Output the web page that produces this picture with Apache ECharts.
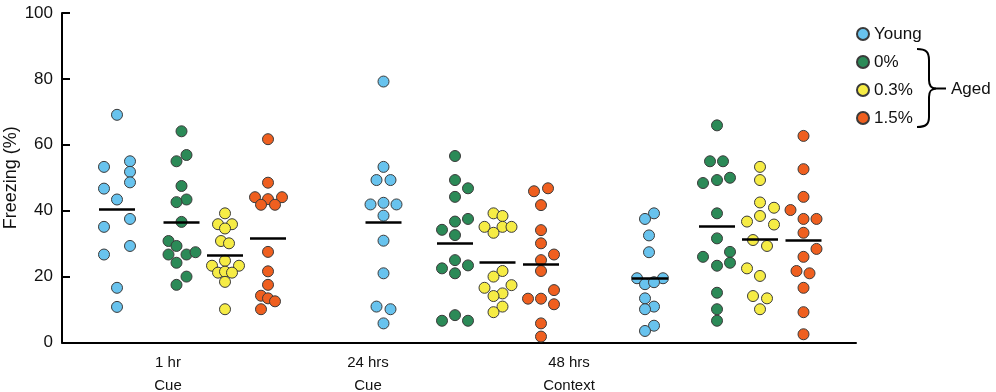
<!DOCTYPE html>
<html>
<head>
<meta charset="utf-8">
<script src="https://cdn.jsdelivr.net/npm/echarts@6/dist/echarts.min.js"></script>
<style>
html, body { margin: 0; padding: 0; background: #fff; }
#chart { width: 996px; height: 392px; }
</style>
</head>
<body>
<div id="chart"></div>
<script>
// x labels and where they sit on the x scale
var categories = ['1 hr\nCue', '24 hrs\nCue', '48 hrs\nContext'];
var labelX = [106, 306, 507];
var seriesNames = ['Young', '0%', '0.3%', '1.5%'];
var yTicks = [0, 20, 40, 60, 80, 100];

// column centre of every group, per series
var youngX = [55, 321.5, 588];
var aged0X = [119.5, 393, 655];
var aged03X = [163, 435.5, 698];
var aged15X = [206, 479, 741.5];

// freezing (%) per animal, one array per group
var young = [
    [69.1, 53.3, 55.0, 51.8, 48.6, 46.7, 43.4, 37.5, 35.1, 29.3, 26.7, 16.6, 10.8],
    [79.2, 53.3, 49.3, 49.3, 41.9, 42.4, 41.9, 38.5, 30.9, 21.0, 10.9, 10.1, 5.8],
    [39.2, 37.5, 32.5, 27.4, 19.5, 19.5, 17.7, 18.3, 13.4, 10.9, 10.1, 5.1, 3.5]
];
var aged0 = [
    [64.1, 56.9, 55.0, 47.5, 43.4, 42.6, 36.6, 30.8, 29.3, 26.7, 26.7, 27.4, 24.2, 20.0, 17.5],
    [56.6, 49.3, 46.8, 44.2, 37.5, 36.7, 34.2, 32.6, 25.0, 22.5, 23.4, 21.0, 6.6, 8.3, 6.6],
    [65.9, 55.0, 55.0, 48.4, 49.3, 50.0, 39.2, 31.6, 26.0, 27.5, 23.3, 24.2, 15.1, 10.1, 6.6]
];
var aged03 = [
    [39.2, 35.9, 35.9, 34.6, 30.8, 30.1, 24.8, 23.3, 23.3, 21.2, 21.5, 21.2, 18.4, 10.1],
    [39.2, 38.4, 35.1, 35.1, 35.1, 33.3, 21.7, 20.0, 17.4, 16.6, 14.9, 14.1, 10.9, 9.2],
    [53.3, 49.3, 42.5, 40.9, 36.7, 38.4, 35.8, 31.1, 29.3, 22.5, 20.2, 14.1, 13.4, 10.1]
];
var aged15 = [
    [61.7, 48.5, 44.1, 43.5, 44.1, 41.8, 41.8, 27.5, 21.6, 17.5, 14.2, 13.4, 12.5, 10.1],
    [45.9, 46.8, 41.7, 34.1, 30.1, 26.7, 25.0, 21.7, 13.3, 13.3, 15.9, 11.6, 5.8, 1.8],
    [62.7, 52.6, 44.2, 40.2, 37.5, 37.5, 33.3, 28.4, 26.0, 21.7, 21.0, 16.6, 9.2, 2.5]
];

// sideways spread of the dots (beeswarm), same order as above
var youngOff = [
    [0, -13, 13, 13, 13, -13, 0, 13, -13, 13, -13, 0, 0],
    [0, 0, -7, 7, -13, 0, 13, 0, 0, 0, -7, 7, 0],
    [4, -5, -1, -1, -13, 13, -5, 4, -5, 4, -5, 4, -5]
];
var aged0Off = [
    [0, 5, -5, 0, 5, -5, 0, -13, -5, -13, 5, 14, -5, 5, -5],
    [0, 0, 13, 0, 13, 0, -13, 0, 0, -13, 13, 0, -13, 0, 13],
    [0, -7, 6, -14, 0, 13, 0, 0, -14, 13, 0, 13, 0, 0, 0]
];
var aged03Off = [
    [0, -7, 7, 0, -4, 4, 0, -13, 14, -7, 0, 7, 0, 0],
    [-4, 5, -13, 5, 14, -4, 5, -4, 14, -13, 5, -4, 5, -4],
    [0, 0, 0, 14, -13, 0, 14, -7, 7, -13, 0, -7, 7, 0]
];
var aged15Off = [
    [0, 0, -13, 0, 14, -7, 7, 0, 0, 0, -7, 0, 7, -7],
    [-7, 7, 0, 0, 0, 13, 0, 0, -13, 0, 13, 13, 0, 0],
    [0, 0, 0, -13, 0, 13, 0, 13, 0, -7, 6, 0, 0, 0]
];

var FONT = '"Liberation Sans", Arial, sans-serif';

function buildSeries(name, color, cols, groups, offs) {
    var data = [];
    var lines = [];
    groups.forEach(function (vals, g) {
        vals.forEach(function (v, i) {
            data.push([cols[g] + offs[g][i], v]);
        });
        // mean bar
        var mean = vals.reduce(function (a, b) { return a + b; }, 0) / vals.length;
        lines.push([{ coord: [cols[g] - 18, mean] }, { coord: [cols[g] + 18, mean] }]);
    });
    return {
        name: name,
        type: 'scatter',
        data: data,
        symbolSize: 11,
        itemStyle: { color: color, borderColor: '#3a3a3a', borderWidth: 1, opacity: 1 },
        markLine: {
            silent: true,
            symbol: 'none',
            label: { show: false },
            lineStyle: { color: '#000', width: 2.5, type: 'solid' },
            data: lines
        }
    };
}

// brace pieces for the "Aged" group
var braceStyle = { fill: null, stroke: '#000', lineWidth: 2 };
function curve(x1, y1, cx1, cy1, cx2, cy2, x2, y2) {
    return { type: 'bezierCurve', shape: { x1: x1, y1: y1, cpx1: cx1, cpy1: cy1, cpx2: cx2, cpy2: cy2, x2: x2, y2: y2 }, style: braceStyle };
}
function seg(x1, y1, x2, y2) {
    return { type: 'line', shape: { x1: x1, y1: y1, x2: x2, y2: y2 }, style: braceStyle };
}

var myChart = echarts.init(document.getElementById('chart'));
myChart.setOption({
    animation: false,
    textStyle: { fontFamily: FONT },
    grid: { left: 62, right: 140, top: 13, bottom: 49.5, containLabel: false, outerBoundsMode: 'none' },
    legend: {
        orient: 'vertical',
        left: 851,
        top: 20,
        icon: 'circle',
        itemWidth: 12,
        itemHeight: 12,
        itemGap: 10,
        textStyle: { fontSize: 17, color: '#111', fontFamily: FONT, lineHeight: 18 },
        data: seriesNames
    },
    xAxis: {
        type: 'value',
        min: 0,
        max: 794,
        splitLine: { show: false },
        axisTick: { show: false },
        axisLine: { onZero: false, lineStyle: { color: '#000', width: 2 } },
        axisLabel: {
            customValues: labelX,
            color: '#111',
            fontSize: 15,
            lineHeight: 23,
            margin: 9,
            formatter: function (v) {
                var i = labelX.indexOf(v);
                return i >= 0 ? categories[i] : '';
            }
        }
    },
    yAxis: {
        type: 'value',
        min: yTicks[0],
        max: yTicks[yTicks.length - 1],
        interval: 20,
        name: 'Freezing (%)',
        nameLocation: 'middle',
        nameRotate: 90,
        nameGap: 42,
        nameMoveOverlap: false,
        nameTextStyle: { fontSize: 18, color: '#111', fontFamily: FONT },
        splitLine: { show: false },
        axisLine: { show: true, lineStyle: { color: '#000', width: 2 } },
        axisTick: { show: true, inside: true, length: 8, lineStyle: { color: '#000', width: 2 } },
        axisLabel: { color: '#111', fontSize: 17, margin: 9 }
    },
    series: [
        buildSeries('Young', '#68c3ee', youngX, young, youngOff),
        buildSeries('0%', '#2b8a57', aged0X, aged0, aged0Off),
        buildSeries('0.3%', '#f6ec45', aged03X, aged03, aged03Off),
        buildSeries('1.5%', '#ef5f1f', aged15X, aged15, aged15Off)
    ],
    graphic: [
        curve(917, 49, 926, 49, 929, 52, 929, 60),
        seg(929, 60, 929, 80),
        curve(929, 80, 929, 86, 931, 88.5, 936, 88.5),
        seg(936, 88.5, 946, 88.5),
        curve(936, 88.5, 931, 89, 929, 91, 929, 97),
        seg(929, 97, 929, 117),
        curve(929, 117, 929, 124, 926, 127, 917, 127),
        {
            type: 'text',
            x: 951,
            y: 81,
            style: { text: 'Aged', fontSize: 17, fill: '#111', fontFamily: FONT }
        }
    ]
});
</script>
</body>
</html>
